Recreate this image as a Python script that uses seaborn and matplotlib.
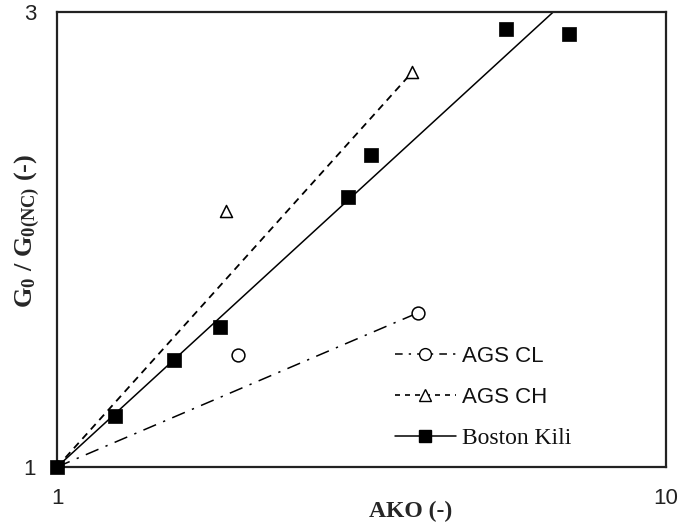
import numpy as np
import pandas as pd
import matplotlib
matplotlib.use("Agg")
import matplotlib.pyplot as plt
from matplotlib.lines import Line2D
import seaborn as sns

# ---- data ----
ako_bk = [1.0, 1.245, 1.557, 1.853, 3.005, 3.28, 5.46, 6.93]
g_bk = [1.0, 1.131, 1.295, 1.402, 1.920, 2.124, 2.880, 2.845]

ako_ch = [1.0, 1.894, 3.83]
g_ch = [1.0, 1.856, 2.594]

ako_cl = [1.0, 1.983, 3.915]
g_cl = [1.0, 1.310, 1.451]

series_names = ["AGS CL", "AGS CH", "Boston Kili"]
x_ticks_major = [1, 10]
x_ticklabels = ["1", "10"]
y_ticks = [1, 2, 3]
y_ticklabels = ["1", "", "3"]

sns.set_theme(style="white")
plt.rcParams["font.family"] = ["Liberation Sans", "DejaVu Sans"]
plt.rcParams["mathtext.fontset"] = "custom"
plt.rcParams["mathtext.rm"] = "Liberation Serif:bold"
plt.rcParams["mathtext.it"] = "Liberation Serif:bold"
plt.rcParams["mathtext.bf"] = "Liberation Serif:bold"

fig = plt.figure(figsize=(6.78, 5.26), dpi=100)
ax = fig.add_axes([57 / 678, 59 / 526, 609 / 678, 455 / 526])
ax.set_xscale("log")
ax.set_yscale("log")

# fitted power-law line through (1,1) for Boston Kili
lx_bk = np.log10(ako_bk)
ly_bk = np.log10(g_bk)
b_bk = np.sum(lx_bk * ly_bk) / np.sum(lx_bk ** 2)
xx = np.array([1.0, 10.0])
sns.lineplot(x=xx, y=xx ** b_bk, ax=ax, color="black", lw=1.1, sort=False)

# AGS lines from first to last point
sns.lineplot(x=[ako_ch[0], ako_ch[-1]], y=[g_ch[0], g_ch[-1]], ax=ax,
             color="black", lw=1.3, sort=False, linestyle=(0, (4, 3)))
sns.lineplot(x=[ako_cl[0], ako_cl[-1]], y=[g_cl[0], g_cl[-1]], ax=ax,
             color="black", lw=1.1, sort=False, linestyle=(0, (9, 5, 1.5, 5)))

# markers
sns.scatterplot(x=ako_cl, y=g_cl, ax=ax, marker="o", s=85, facecolor="white",
                edgecolor="black", linewidth=1.1, zorder=4)
sns.scatterplot(x=ako_ch, y=g_ch, ax=ax, marker="^", s=75, facecolor="white",
                edgecolor="black", linewidth=1.1, zorder=4)
sns.scatterplot(x=ako_bk, y=g_bk, ax=ax, marker="s", s=95, color="black",
                edgecolor="black", linewidth=0.5, zorder=5, clip_on=False)

ax.set_xlim(1, 10)
ax.set_ylim(1, 3)

# ticks
ax.set_xticks(x_ticks_major)
ax.set_xticklabels(x_ticklabels)
ax.xaxis.set_minor_locator(matplotlib.ticker.LogLocator(base=10, subs=np.arange(2, 10)))
ax.xaxis.set_minor_formatter(matplotlib.ticker.NullFormatter())
ax.set_yticks(y_ticks)
ax.set_yticklabels(y_ticklabels)
ax.yaxis.set_minor_locator(matplotlib.ticker.NullLocator())
ax.tick_params(axis="both", which="both", direction="in", color="black",
               labelsize=16, labelcolor="#222222")
ax.tick_params(axis="x", which="minor", length=6, width=1)
ax.tick_params(axis="x", which="major", length=0, pad=15)
ax.tick_params(axis="y", which="major", length=6, width=1, pad=15)

for sp in ax.spines.values():
    sp.set_visible(True)
    sp.set_color("#222222")
    sp.set_linewidth(1.6)

ax.set_xlabel("AKO (-)", fontfamily="Liberation Serif", fontweight="bold",
              fontsize=17)
ax.xaxis.set_label_coords(0.58, -0.074)
ax.set_ylabel(r"G$_{\mathrm{0}}$ / G$_{\mathrm{0(NC)}}$ (-)", fontfamily="Liberation Serif",
              fontweight="bold", fontsize=19)
ax.yaxis.set_label_coords(-0.024, 0.52)

handles = [
    Line2D([], [], color="black", lw=1.1, linestyle=(0, (5, 4, 1.5, 4)), marker="o",
           markersize=8.5, markerfacecolor="white", markeredgecolor="black"),
    Line2D([], [], color="black", lw=1.2, linestyle=(0, (3, 3)), marker="^",
           markersize=8.5, markerfacecolor="white", markeredgecolor="black"),
    Line2D([], [], color="black", lw=1.1, marker="s", markersize=9,
           markerfacecolor="black", markeredgecolor="black"),
]
leg = ax.legend(handles, series_names, loc="upper left", bbox_to_anchor=(0.522, 0.31),
                frameon=False, fontsize=16, handlelength=2.75, labelspacing=0.9,
                handletextpad=0.25)
leg.get_texts()[2].set_fontfamily("Liberation Serif")
leg.get_texts()[2].set_fontsize(17)
for t in leg.get_texts():
    t.set_color("#111111")

fig.savefig("out.png", dpi=100)
